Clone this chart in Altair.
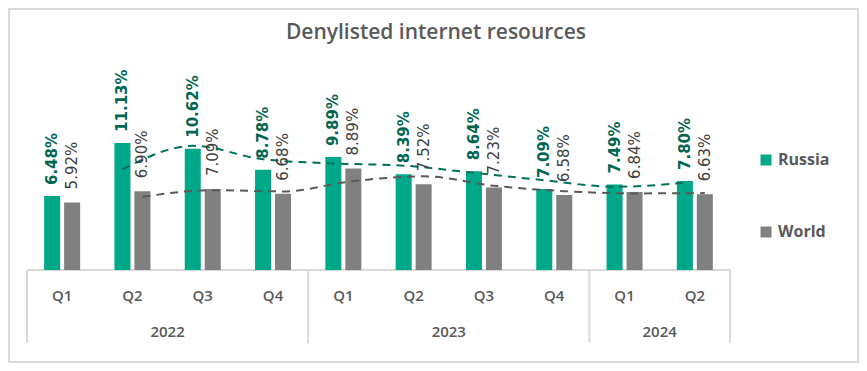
import altair as alt
import pandas as pd

# ---- data ----
quarters = ["Q1", "Q2", "Q3", "Q4", "Q1", "Q2", "Q3", "Q4", "Q1", "Q2"]
years = ["2022", "2022", "2022", "2022", "2023", "2023", "2023", "2023", "2024", "2024"]
russia = [6.48, 11.13, 10.62, 8.78, 9.89, 8.39, 8.64, 7.09, 7.49, 7.80]
world = [5.92, 6.90, 7.09, 6.68, 8.89, 7.52, 7.23, 6.58, 6.84, 6.63]
series_names = ["Russia", "World"]
series_colors = ["#00A88A", "#808080"]
trend_colors = ["#00705A", "#595959"]
label_colors = ["#00664F", "#404040"]
title_text = ["Denylisted internet resources"]

W, H = 703, 137
n = len(quarters)
idx = list(range(n))
offsets = {"Russia": -0.142, "World": 0.142}
half_bar = 0.114

bars = pd.DataFrame({
    "i": idx * 2,
    "series": ["Russia"] * n + ["World"] * n,
    "value": russia + world,
})
bars["label"] = bars["value"].map(lambda v: f"{v:.2f}%")
bars["xc"] = bars["i"] + bars["series"].map(offsets)
bars["xa"] = bars["xc"] - half_bar
bars["xb"] = bars["xc"] + half_bar

trend_frames = []
for name, vals in zip(series_names, [russia, world]):
    s = pd.Series(vals).rolling(2).mean()
    d = pd.DataFrame({"i": idx, "series": name, "ma": s}).dropna()
    d["xc"] = d["i"] + offsets[name]
    trend_frames.append(d)

qdf = pd.DataFrame({"i": idx, "q": quarters})
ydf = pd.DataFrame({"i": idx, "year": years}).groupby("year", as_index=False)["i"].mean()
starts = [i for i in idx if i == 0 or years[i] != years[i - 1]]
seps = pd.DataFrame({"b": [s - 0.5 for s in starts] + [n - 0.5]})

xs = alt.Scale(domain=[-0.5, n - 0.5], nice=False, zero=False)
ys = alt.Scale(domain=[0, 12], nice=False)
X = lambda f: alt.X(f, scale=xs, axis=None)
Y = lambda f: alt.Y(f, scale=ys, axis=None, stack=None)

bar_layer = alt.Chart(bars).mark_bar().encode(
    x=X("xa:Q"),
    x2="xb:Q",
    y=Y("value:Q"),
    y2=alt.datum(0),
    color=alt.Color(
        "series:N",
        scale=alt.Scale(domain=series_names, range=series_colors),
        legend=alt.Legend(
            title=None, orient="none", legendX=731, legendY=19,
            symbolType="square", symbolSize=121,
            labelFontSize=16, labelFont="Open Sans", labelFontWeight="bold",
            labelColor="#595959", rowPadding=56, labelOffset=4,
        ),
    ),
)

lab_r = alt.Chart(bars[bars["series"] == "Russia"]).mark_text(
    angle=270, align="left", baseline="middle", dx=11,
    font="DejaVu Sans", fontSize=15, fontWeight="bold", color=label_colors[0],
).encode(x=X("xc:Q"), y=Y("value:Q"), text="label:N")

lab_w = alt.Chart(bars[bars["series"] == "World"]).mark_text(
    angle=270, align="left", baseline="middle", dx=13,
    font="DejaVu Sans", fontSize=15, fontWeight="normal", color=label_colors[1],
).encode(x=X("xc:Q"), y=Y("value:Q"), text="label:N")

trend_layers = []
for d, col in zip(trend_frames, trend_colors):
    t = alt.Chart(d).mark_line(
        color=col, strokeWidth=2, strokeDash=[8, 6], interpolate="monotone"
    ).encode(x=X("xc:Q"), y=Y("ma:Q"))
    trend_layers.append(t)

axis_line = alt.Chart(pd.DataFrame({"a": [-0.5], "b": [n - 0.5]})).mark_rule(
    color="#D9D9D9", strokeWidth=2
).encode(x=X("a:Q"), x2="b:Q", y=alt.value(H))

sep_layer = alt.Chart(seps).mark_rule(color="#D9D9D9", strokeWidth=2).encode(
    x=X("b:Q"), y=alt.value(H), y2=alt.value(H + 73)
)

q_layer = alt.Chart(qdf).mark_text(
    font="Open Sans", fontSize=15, fontWeight=600, color="#595959", baseline="middle"
).encode(x=X("i:Q"), y=alt.value(H + 26), text="q:N")

y_layer = alt.Chart(ydf).mark_text(
    font="Open Sans", fontSize=15, fontWeight=600, color="#595959", baseline="middle"
).encode(x=X("i:Q"), y=alt.value(H + 62), text="year:N")

title_layer = alt.Chart(pd.DataFrame({"t": title_text})).mark_text(
    font="Open Sans", fontSize=21, fontWeight=600, color="#595959", baseline="middle"
).encode(x=alt.value(409), y=alt.value(-100), text="t:N")

frame = alt.Chart(pd.DataFrame({"k": [0]})).mark_rect(
    fillOpacity=0, stroke="#D9D9D9", strokeWidth=2
).encode(x=alt.value(-18), x2=alt.value(W + 128), y=alt.value(-124), y2=alt.value(H + 92))

chart = alt.layer(
    frame, axis_line, sep_layer, bar_layer, *trend_layers, lab_r, lab_w,
    q_layer, y_layer, title_layer,
).properties(
    width=W, height=H,
    autosize=alt.AutoSizeParams(type="none"),
    padding={"left": 19, "top": 125, "right": 129, "bottom": 93},
).configure_view(stroke=None)

chart.save("out.html", embed_options={"renderer": "svg", "actions": False})
